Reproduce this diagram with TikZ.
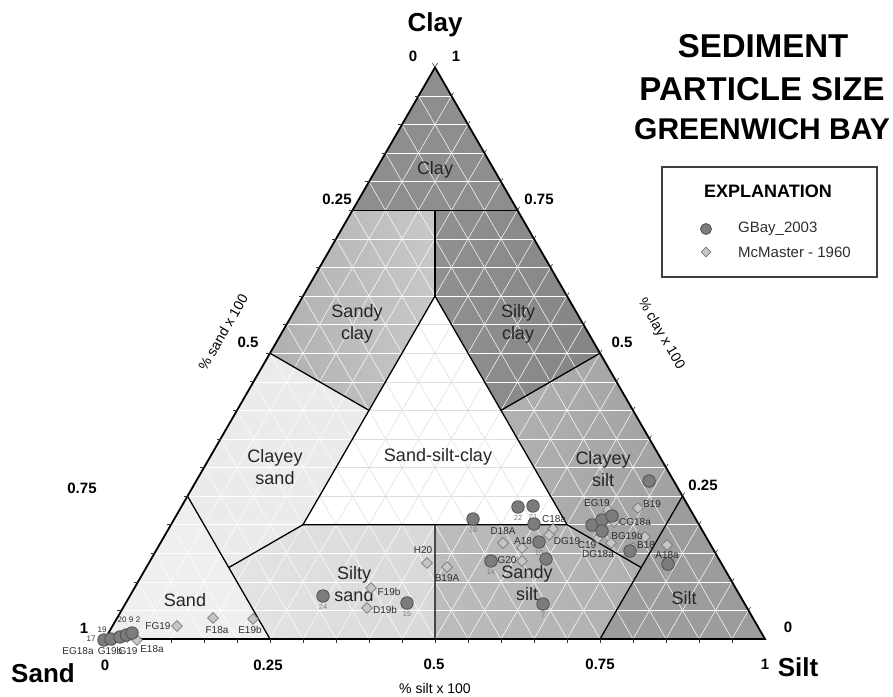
\documentclass[tikz,border=0pt]{standalone}
\usepackage{fontspec}
\setmainfont{Liberation Sans}
\usetikzlibrary{shapes.geometric}
\definecolor{cClay}{HTML}{8E8E8E}
\definecolor{cSandyClayA}{HTML}{B0B0B0}
\definecolor{cSandyClayB}{HTML}{C8C8C8}
\definecolor{cSiltyClayA}{HTML}{909090}
\definecolor{cSiltyClayB}{HTML}{858585}
\definecolor{cClayeySand}{HTML}{EBEBEB}
\definecolor{cClayeySiltA}{HTML}{B2B2B2}
\definecolor{cClayeySiltB}{HTML}{A0A0A0}
\definecolor{cSand}{HTML}{EFEFEF}
\definecolor{cSiltySandA}{HTML}{E4E4E4}
\definecolor{cSiltySandB}{HTML}{D8D8D8}
\definecolor{cSandySiltA}{HTML}{BCBCBC}
\definecolor{cSandySiltB}{HTML}{B0B0B0}
\definecolor{cSilt}{HTML}{9C9C9C}
\definecolor{dotfill}{HTML}{7C7C7C}
\definecolor{dotline}{HTML}{505050}
\definecolor{diafill}{HTML}{C6C6C6}
\definecolor{dialine}{HTML}{7A7A7A}
\definecolor{numgray}{HTML}{7E7E7E}
\definecolor{numfaint}{HTML}{B4B4B4}
\definecolor{txtdark}{HTML}{2E2E2E}
\begin{document}
\begin{tikzpicture}[x=1pt,y=-1pt,
  gb/.style={circle,draw=dotline,fill=dotfill,line width=0.8pt,minimum size=12.5pt,inner sep=0pt},
  mm/.style={diamond,draw=dialine,fill=diafill,line width=0.7pt,minimum size=11pt,inner sep=0pt},
  num/.style={font=\fontsize{7.5}{8}\selectfont,text=numgray,inner sep=0pt},
  numf/.style={font=\fontsize{7.5}{8}\selectfont,text=numfaint,inner sep=0pt},
  numd/.style={font=\fontsize{8}{9}\selectfont,text=txtdark,inner sep=0pt},
  smp/.style={font=\fontsize{10}{11}\selectfont,text=txtdark,inner sep=0pt},
  region/.style={font=\fontsize{18}{21.5}\selectfont,align=center,text=black!85,inner sep=0pt},
  ticklab/.style={font=\bfseries\fontsize{15}{16}\selectfont,inner sep=0pt},
  axname/.style={font=\bfseries\fontsize{26}{28}\selectfont,inner sep=0pt},
  axtitle/.style={font=\fontsize{14}{16}\selectfont,inner sep=0pt},
  titlefont/.style={font=\bfseries\fontsize{#1}{#1}\selectfont,inner sep=0pt},
  gridline/.style={draw=white,line width=0.5pt},
  gridlinec/.style={draw=black!13,line width=0.5pt},
  bound/.style={draw=black,line width=1.3pt},
  outer/.style={draw=black,line width=1.8pt,line join=miter},
  tickmark/.style={draw=black!80,line width=0.6pt}
]
\useasboundingbox (0,0) rectangle (893,696);

\begin{scope}[shift={(105,639)},x={(660pt,0pt)},y={(330pt,571.6pt)}]
 \coordinate (A) at (0,0);
 \coordinate (B) at (1,0);
 \coordinate (C) at (0,1);
 \coordinate (L75) at (0,0.75);
 \coordinate (R75) at (0.25,0.75);
 \coordinate (M75) at (0.125,0.75);
 \coordinate (L50) at (0,0.5);
 \coordinate (R50) at (0.5,0.5);
 \coordinate (T) at (0.2,0.6);
 \coordinate (P1) at (0.2,0.4);
 \coordinate (P2) at (0.4,0.4);
 \coordinate (Q1) at (0.2,0.2);
 \coordinate (Q2) at (0.6,0.2);
 \coordinate (Qm) at (0.4,0.2);
 \coordinate (L25) at (0,0.25);
 \coordinate (B25) at (0.25,0);
 \coordinate (Ms) at (0.125,0.125);
 \coordinate (B50) at (0.5,0);
 \coordinate (B75) at (0.75,0);
 \coordinate (R25) at (0.75,0.25);
 \coordinate (Mt) at (0.75,0.125);

 % region fills
 \fill[cClay] (C) -- (L75) -- (R75) -- cycle;
 \fill[left color=cSandyClayA,right color=cSandyClayB] (L75) -- (L50) -- (P1) -- (T) -- (M75) -- cycle;
 \fill[left color=cSiltyClayA,right color=cSiltyClayB] (M75) -- (T) -- (P2) -- (R50) -- (R75) -- cycle;
 \fill[cClayeySand] (L50) -- (L25) -- (Ms) -- (Q1) -- (P1) -- cycle;
 \fill[white] (T) -- (Q1) -- (Q2) -- cycle;
 \fill[left color=cClayeySiltA,right color=cClayeySiltB] (R50) -- (P2) -- (Q2) -- (Mt) -- (R25) -- cycle;
 \fill[cSand] (A) -- (L25) -- (B25) -- cycle;
 \fill[left color=cSiltySandA,right color=cSiltySandB] (Ms) -- (B25) -- (B50) -- (Qm) -- (Q1) -- cycle;
 \fill[left color=cSandySiltA,right color=cSandySiltB] (Qm) -- (B50) -- (B75) -- (Mt) -- (Q2) -- cycle;
 \fill[cSilt] (B75) -- (B) -- (R25) -- cycle;

 % grid
 \foreach \i in {1,...,19}{
   \pgfmathsetmacro\k{\i/20}
   \draw[gridline] (0,\k) -- ({1-\k},\k);
   \draw[gridline] (\k,0) -- (\k,{1-\k});
   \draw[gridline] ({1-\k},0) -- (0,{1-\k});
 }
 \begin{scope}
   \clip (T) -- (Q1) -- (Q2) -- cycle;
   \foreach \i in {1,...,19}{
     \pgfmathsetmacro\k{\i/20}
     \draw[gridlinec] (0,\k) -- ({1-\k},\k);
     \draw[gridlinec] (\k,0) -- (\k,{1-\k});
     \draw[gridlinec] ({1-\k},0) -- (0,{1-\k});
   }
 \end{scope}

 % boundaries
 \draw[bound] (L75) -- (R75);
 \draw[bound] (M75) -- (T);
 \draw[bound] (L50) -- (P1);
 \draw[bound] (R50) -- (P2);
 \draw[bound] (T) -- (Q1) -- (Q2) -- cycle;
 \draw[bound] (L25) -- (B25);
 \draw[bound] (Ms) -- (Q1);
 \draw[bound] (Qm) -- (B50);
 \draw[bound] (Q2) -- (Mt);
 \draw[bound] (R25) -- (B75);
 \draw[outer] (A) -- (B) -- (C) -- cycle;

 % ticks
 \foreach \i in {1,...,19}{
   \pgfmathsetmacro\k{\i/20}
   \draw[tickmark] (\k,0) -- ++(0pt,-4pt);
   \draw[tickmark] (0,\k) -- ++(-4pt,0pt);
   \draw[tickmark] ({1-\k},\k) -- ++(60:4pt);
 }
 \draw[tickmark] (C) -- ++(120:5pt);
 \draw[tickmark] (C) -- ++(60:5pt);
\end{scope}

% axis tick labels
\node[ticklab] (b0) at (105,665) {0};
\node[ticklab] (b25) at (268,665) {0.25};
\node[ticklab] (b50) at (434,664) {0.5};
\node[ticklab] (b75) at (600,664) {0.75};
\node[ticklab] (b100) at (765,664) {1};
\node[ticklab] (l100) at (84,628) {1};
\node[ticklab] (l75) at (82,488) {0.75};
\node[ticklab] (l50) at (248,342) {0.5};
\node[ticklab] (l25) at (337,199) {0.25};
\node[ticklab] (l0) at (413,56) {0};
\node[ticklab] (r100) at (456,56) {1};
\node[ticklab] (r75) at (539,199) {0.75};
\node[ticklab] (r50) at (622,342) {0.5};
\node[ticklab] (r25) at (703,485) {0.25};
\node[ticklab] (r0) at (788,627) {0};

% axis names
\node[axname] (tClay) at (435,25) {Clay};
\node[axname] (tSand) at (43,673) {Sand};
\node[axname] (tSilt) at (798,667) {Silt};
\node[axtitle] (tsilt) at (435,688) {\% silt x 100};
\node[axtitle,rotate=60] (tsand) at (223,332) {\% sand x 100};
\node[axtitle,rotate=-60] (tclay) at (661,334) {\% clay x 100};

% region labels
\node[region] (rgClay) at (435,170) {Clay};
\node[region] (rgSandyClay) at (357,324) {Sandy\\clay};
\node[region] (rgSiltyClay) at (518,324) {Silty\\clay};
\node[region] (rgClayeySand) at (275,467) {Clayey\\sand};
\node[region] (rgSSC) at (438,457) {Sand-silt-clay};
\node[region] (rgClayeySilt) at (603,469) {Clayey\\silt};
\node[region] (rgSiltySand) at (354,584) {Silty\\sand};
\node[region] (rgSandySilt) at (527,583) {Sandy\\silt};
\node[region] (rgSand) at (185,600) {Sand};
\node[region] (rgSilt) at (684,598) {Silt};

% title
\node[titlefont=33] (title1) at (763,46) {SEDIMENT};
\node[titlefont=33] (title2) at (762,89) {PARTICLE SIZE};
\node[titlefont=30] (title3) at (762,129) {GREENWICH BAY};

% legend
\node[draw=black!75,line width=1.2pt,minimum width=215pt,minimum height=110pt,inner sep=0pt] (legbox) at (769.5,222) {};
\node[font=\bfseries\fontsize{18}{19}\selectfont] (legtitle) at (768,191) {EXPLANATION};
\node[gb,minimum size=11pt] (legdot) at (706,229) {};
\node[mm,minimum size=10pt] (legdia) at (706,252) {};
\node[anchor=west,font=\fontsize{15}{16}\selectfont,text=txtdark,inner sep=0pt] (legt1) at (738,229) {GBay\_2003};
\node[anchor=west,font=\fontsize{15}{16}\selectfont,text=txtdark,inner sep=0pt] (legt2) at (738,252) {McMaster - 1960};

% McMaster 1960 diamonds
\node[mm] (dB19) at (638,508) {};
\node[smp] (tB19) at (652,504) {B19};
\node[mm] (dBG19b) at (645,537) {};
\node[smp] (tBG19b) at (627,536) {BG19b};
\node[mm] (dA18a) at (667,545) {};
\node[smp] (tA18a) at (667,555) {A18a};
\node[mm] (dEG19) at (608,510) {};
\node[smp] (tEG19) at (597,503) {EG19};
\node[mm] (dCG18a) at (614,522) {};
\node[smp] (tCG18a) at (635,522) {CG18a};
\node[mm] (dC19) at (598,538) {};
\node[smp] (tC19) at (587,545) {C19};
\node[mm] (dDG18a) at (611,543) {};
\node[smp] (tDG18a) at (598,554) {DG18a};
\node[mm] (dB18) at (633,548) {};
\node[smp] (tB18) at (646,545) {B18};
\node[mm] (dD18A) at (503,543) {};
\node[smp] (tD18A) at (503,531) {D18A};
\node[mm] (dA18) at (522,548) {};
\node[smp] (tA18) at (523,541) {A18};
\node[mm] (dC18a) at (553,529) {};
\node[smp] (tC18a) at (554,519) {C18a};
\node[mm] (dDG19) at (549,535) {};
\node[smp] (tDG19) at (567,541) {DG19};
\node[mm] (dG20) at (522,561) {};
\node[smp] (tG20) at (507,560) {G20};
\node[mm] (dH20) at (427,563) {};
\node[smp] (tH20) at (423,550) {H20};
\node[mm] (dB19A) at (447,567) {};
\node[smp] (tB19A) at (447,578) {B19A};
\node[mm] (dF19b) at (371,588) {};
\node[smp] (tF19b) at (389,592) {F19b};
\node[mm] (dD19b) at (367,608) {};
\node[smp] (tD19b) at (385,610) {D19b};
\node[mm] (dFG19) at (177,626) {};
\node[smp] (tFG19) at (158,626) {FG19};
\node[mm] (dF18a) at (213,618) {};
\node[smp] (tF18a) at (217,630) {F18a};
\node[mm] (dE19b) at (253,619) {};
\node[smp] (tE19b) at (250,630) {E19b};
\node[mm] (dEG18a) at (104,640) {};
\node[smp] (tEG18a) at (78,651) {EG18a};
\node[mm] (dG19b) at (113,640) {};
\node[smp] (tG19b) at (110,651) {G19b};
\node[mm] (dG19) at (127,637) {};
\node[smp] (tG19) at (128,651) {G19};
\node[mm] (dE18a) at (137,640) {};
\node[smp] (tE18a) at (152,649) {E18a};

% GBay 2003 circles
\node[gb] (g18) at (473,519) {};
\node[num] (n18) at (473,530) {18};
\node[gb] (g22) at (518,507) {};
\node[num] (n22) at (518,518) {22};
\node[gb] (g21) at (533,506) {};
\node[num] (n21) at (533,517) {21};
\node[gb] (g8) at (534,524) {};
\node[numf] (n8) at (534,535) {8};
\node[gb] (g10) at (539,542) {};
\node[num] (n10) at (539,553) {10};
\node[gb] (g3) at (546,559) {};
\node[gb] (g14) at (491,561) {};
\node[num] (n14) at (491,572) {14};
\node[gb] (g7) at (543,604) {};
\node[num] (n7) at (543,615) {7};
\node[gb] (g24) at (323,596) {};
\node[num] (n24) at (323,607) {24};
\node[gb] (g15) at (407,603) {};
\node[num] (n15) at (407,614) {15};
\node[gb] (g16) at (649,481) {};
\node[numf] (n16) at (649,492) {16};
\node[gb] (g4) at (592,525) {};
\node[numf] (n4) at (580,520) {4};
\node[gb] (g13) at (602,520) {};
\node[numf] (n13) at (603,508) {13};
\node[gb] (g6) at (612,516) {};
\node[numf] (n6) at (620,508) {6};
\node[gb] (g12) at (602,531) {};
\node[gb] (g19m) at (630,551) {};
\node[gb] (g17m) at (668,564) {};
\node[numf] (n17m) at (668,575) {17};
% sand corner circles
\node[gb] (gs1) at (104,640) {};
\node[gb] (gs2) at (111,639) {};
\node[gb] (gs3) at (120,637) {};
\node[gb] (gs4) at (126.5,635) {};
\node[gb] (gs5) at (132,633) {};
\node[numd] (ns19) at (102,630) {19};
\node[numd] (ns17) at (91,639) {17};
\node[numd] (ns20) at (122,620) {20};
\node[numd] (ns9) at (131,620) {9};
\node[numd] (ns2) at (138,620) {2};
\end{tikzpicture}
\end{document}
